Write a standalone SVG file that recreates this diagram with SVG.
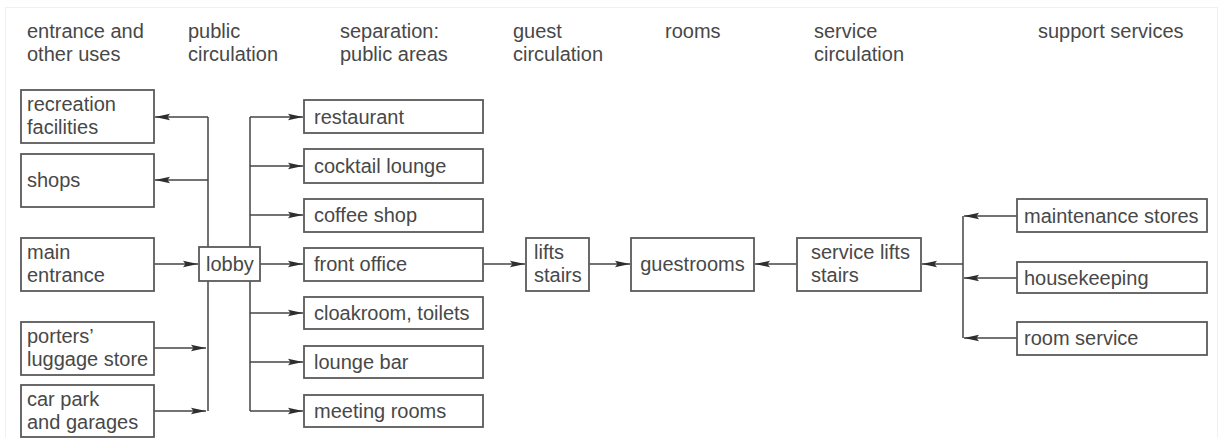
<svg xmlns="http://www.w3.org/2000/svg" width="1221" height="438" viewBox="0 0 1221 438">
<style>
  text { font-family: "Liberation Sans", Arial, sans-serif; font-size: 20px; fill: #484848; }
  .box { fill: #ffffff; stroke: #5a5a5a; stroke-width: 1.8; }
  .ln { fill: none; stroke: #444444; stroke-width: 1.5; }
  .frame { fill: none; stroke: #f0f0f0; stroke-width: 1; }
</style>
<defs>
  <marker id="ah" markerUnits="userSpaceOnUse" markerWidth="16" markerHeight="8" refX="15" refY="4" orient="auto">
    <path d="M0,0.8 L15,4 L0,7.2 L2.5,4 z" fill="#2e2e2e"/>
  </marker>
</defs>
<rect width="1221" height="438" fill="#ffffff"/>
<rect class="frame" x="5.5" y="7.5" width="1212" height="440"/>

<g id="headers">
  <text x="27" y="38">entrance and</text><text x="27" y="61">other uses</text>
  <text x="188" y="38">public</text><text x="188" y="61">circulation</text>
  <text x="340" y="38">separation:</text><text x="340" y="61">public areas</text>
  <text x="513" y="38">guest</text><text x="513" y="61">circulation</text>
  <text x="665" y="38">rooms</text>
  <text x="814" y="38">service</text><text x="814" y="61">circulation</text>
  <text x="1038" y="38">support services</text>
</g>

<g id="connectors">
  <path class="ln" d="M208,117 V247 M208,281 V411"/>
  <path class="ln" d="M250,117 V247 M250,281 V411"/>
  <path class="ln" d="M963,216 V338"/>
  <path class="ln" marker-end="url(#ah)" d="M208,117 H155"/>
  <path class="ln" marker-end="url(#ah)" d="M208,180 H155"/>
  <path class="ln" marker-end="url(#ah)" d="M154,264 H198"/>
  <path class="ln" marker-end="url(#ah)" d="M154,348 H206"/>
  <path class="ln" marker-end="url(#ah)" d="M154,411 H206"/>
  <path class="ln" marker-end="url(#ah)" d="M250,117 H303"/>
  <path class="ln" marker-end="url(#ah)" d="M250,166 H303"/>
  <path class="ln" marker-end="url(#ah)" d="M250,215 H303"/>
  <path class="ln" marker-end="url(#ah)" d="M260,264 H303"/>
  <path class="ln" marker-end="url(#ah)" d="M250,313 H303"/>
  <path class="ln" marker-end="url(#ah)" d="M250,362 H303"/>
  <path class="ln" marker-end="url(#ah)" d="M250,411 H303"/>
  <path class="ln" marker-end="url(#ah)" d="M483,264 H525"/>
  <path class="ln" marker-end="url(#ah)" d="M589,264 H630"/>
  <path class="ln" marker-end="url(#ah)" d="M797,264 H755"/>
  <path class="ln" marker-end="url(#ah)" d="M963,264 H922"/>
  <path class="ln" marker-end="url(#ah)" d="M1017,216 H964"/>
  <path class="ln" marker-end="url(#ah)" d="M1017,278 H964"/>
  <path class="ln" marker-end="url(#ah)" d="M1017,338 H964"/>
</g>

<g id="recreation"><rect class="box" x="21" y="90" width="133" height="53"/><text x="27" y="111">recreation</text><text x="27" y="134">facilities</text></g>
<g id="shops"><rect class="box" x="21" y="154" width="133" height="53"/><text x="27" y="187">shops</text></g>
<g id="main-entrance"><rect class="box" x="21" y="238" width="133" height="53"/><text x="27" y="259">main</text><text x="27" y="282">entrance</text></g>
<g id="porters"><rect class="box" x="21" y="322" width="133" height="53"/><text x="27" y="343">porters’</text><text x="27" y="366">luggage store</text></g>
<g id="car-park"><rect class="box" x="21" y="385" width="133" height="52"/><text x="27" y="406">car park</text><text x="27" y="429">and garages</text></g>
<g id="lobby"><rect class="box" x="199" y="247" width="61" height="34"/><text x="206" y="271">lobby</text></g>
<g id="restaurant"><rect class="box" x="304" y="100" width="179" height="33"/><text x="314" y="124">restaurant</text></g>
<g id="cocktail-lounge"><rect class="box" x="304" y="149" width="179" height="34"/><text x="314" y="173">cocktail lounge</text></g>
<g id="coffee-shop"><rect class="box" x="304" y="199" width="179" height="33"/><text x="314" y="222">coffee shop</text></g>
<g id="front-office"><rect class="box" x="304" y="248" width="179" height="33"/><text x="314" y="271">front office</text></g>
<g id="cloakroom"><rect class="box" x="304" y="297" width="179" height="32"/><text x="314" y="320">cloakroom, toilets</text></g>
<g id="lounge-bar"><rect class="box" x="304" y="346" width="179" height="32"/><text x="314" y="369">lounge bar</text></g>
<g id="meeting-rooms"><rect class="box" x="304" y="395" width="179" height="32"/><text x="314" y="418">meeting rooms</text></g>
<g id="lifts-stairs"><rect class="box" x="526" y="238" width="63" height="53"/><text x="534" y="259">lifts</text><text x="534" y="282">stairs</text></g>
<g id="guestrooms"><rect class="box" x="631" y="238" width="123" height="53"/><text x="692.5" y="271" text-anchor="middle">guestrooms</text></g>
<g id="service-lifts"><rect class="box" x="797" y="238" width="124" height="53"/><text x="811" y="259">service lifts</text><text x="811" y="282">stairs</text></g>
<g id="maintenance"><rect class="box" x="1017" y="199" width="190" height="33"/><text x="1024" y="223">maintenance stores</text></g>
<g id="housekeeping"><rect class="box" x="1017" y="262" width="190" height="31"/><text x="1024" y="285">housekeeping</text></g>
<g id="room-service"><rect class="box" x="1017" y="322" width="190" height="33"/><text x="1024" y="345">room service</text></g>
</svg>
